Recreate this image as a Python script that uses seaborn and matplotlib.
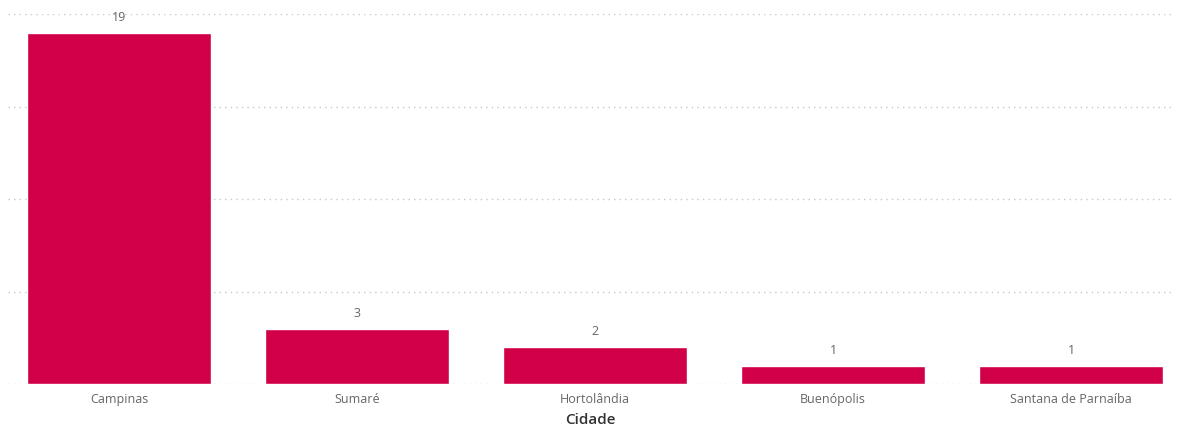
import matplotlib
matplotlib.use("Agg")
import matplotlib.pyplot as plt
import seaborn as sns
import pandas as pd

# data
cidades = ["Campinas", "Sumaré", "Hortolândia", "Buenópolis", "Santana de Parnaíba"]
contagem = [19, 3, 2, 1, 1]

df = pd.DataFrame({"Cidade": cidades, "Contagem": contagem})

sns.set_style("white")
plt.rcParams["font.family"] = ["Open Sans", "DejaVu Sans"]

fig = plt.figure(figsize=(11.77, 4.27), dpi=100)
ax = fig.add_axes([8 / 1177, 42 / 427, 1164 / 1177, 370 / 427])

sns.barplot(data=df, x="Cidade", y="Contagem", color="#D10048",
            width=0.773, saturation=1, ax=ax, zorder=3)

ax.set_xlim(-0.466, 4.424)
ax.set_ylim(0, 20)
ax.set_yticks([0, 5, 10, 15, 20])
ax.set_yticklabels([])
ax.tick_params(axis="y", length=0)
ax.tick_params(axis="x", length=0, labelsize=9, labelcolor="#666666", pad=6)
ax.grid(axis="y", color="#c8c8c8", linestyle=(0, (1, 3)), linewidth=1, zorder=0)
for s in ax.spines.values():
    s.set_visible(False)

ax.set_ylabel("")
ax.set_xlabel("Cidade", fontsize=11, color="#333333", fontweight="semibold", labelpad=5)

for i, v in enumerate(contagem):
    ax.annotate(str(v), (i, v), xytext=(0, 7), textcoords="offset points",
                ha="center", va="bottom", fontsize=9, color="#666666",
                annotation_clip=False)

fig.savefig("out.png", dpi=100)
